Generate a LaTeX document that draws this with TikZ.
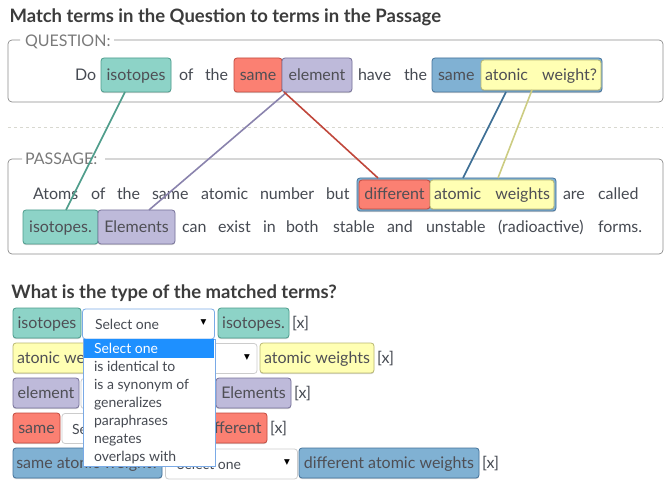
\documentclass[tikz,border=0pt]{standalone}
\usepackage{fontspec}
\setmainfont{Lato}
\newfontfamily\symfont{DejaVu Sans}
\usetikzlibrary{calc,shadows}
\definecolor{txt}{HTML}{464A52}
\definecolor{termtxt}{HTML}{4F4F55}
\definecolor{titletxt}{HTML}{3C3C3C}
\definecolor{legendtxt}{HTML}{7A7A7A}
\definecolor{framec}{HTML}{8C8C8C}
\definecolor{sepc}{HTML}{D8D8D0}
\definecolor{tealf}{HTML}{8DD3C7}\definecolor{tealb}{HTML}{4C9C8C}
\definecolor{redf}{HTML}{FB8072}\definecolor{redb}{HTML}{C24A3E}
\definecolor{purf}{HTML}{BEBADA}\definecolor{purb}{HTML}{77729A}
\definecolor{yelf}{HTML}{FFFFB3}\definecolor{yelb}{HTML}{B9B872}
\definecolor{bluf}{HTML}{80B1D3}\definecolor{blub}{HTML}{44729A}
\definecolor{tealL}{HTML}{4F9D8B}
\definecolor{purL}{HTML}{8A83AD}
\definecolor{redL}{HTML}{C0473B}
\definecolor{bluL}{HTML}{3E6F95}
\definecolor{yelL}{HTML}{CCCC82}
\definecolor{selb}{HTML}{CCCCCC}
\definecolor{focusb}{HTML}{7AAAE6}
\definecolor{hilite}{HTML}{1E90FF}
\newcommand{\bodyfs}{\fontsize{16}{19}\selectfont}
\newcommand{\smallfs}{\fontsize{14}{17}\selectfont}
\newcommand{\titlefs}{\fontsize{18.5}{22}\selectfont\bfseries}
\begin{document}
\begin{tikzpicture}[x=1pt,y=-1pt,
  every node/.style={inner sep=0pt,outer sep=0pt},
  word/.style={anchor=base west,font=\bodyfs,text=txt},
  legend/.style={anchor=base west,font=\bodyfs,text=legendtxt},
  heading/.style={anchor=base west,font=\titlefs,text=titletxt},
  term/.style={draw,rounded corners=3pt,line width=0.8pt,text height=11pt,text depth=0pt,
    font=\bodyfs,text=termtxt,
    drop shadow={shadow xshift=0pt,shadow yshift=-1.2pt,opacity=0.35}},
  qterm/.style={term,minimum height=34pt},
  iterm/.style={term,minimum height=29pt},
  rterm/.style={term,minimum height=30pt},
  teal/.style={fill=tealf,draw=tealb},
  red/.style={fill=redf,draw=redb},
  pur/.style={fill=purf,draw=purb},
  yel/.style={fill=yelf,draw=yelb},
  blu/.style={fill=bluf,draw=blub},
  fieldset/.style={draw=framec,line width=0.7pt,rounded corners=4pt},
  link/.style={line width=1.6pt},
  selectbox/.style={draw=selb,fill=white,line width=0.8pt,rounded corners=3pt,minimum width=132pt,minimum height=30pt},
  seltext/.style={anchor=base west,font=\smallfs,text=txt},
  selarrow/.style={font=\symfont\fontsize{7.5}{8}\selectfont,text=black},
  closex/.style={anchor=base west,font=\bodyfs,text=txt},
  item/.style={anchor=base west,font=\smallfs,text=txt}
]
\useasboundingbox (0,0) rectangle (670,492);

% ---------- heading ----------
\node[heading] (title) at (9.5,22.5) {Match terms in the Question to terms in the Passage};

% ---------- question fieldset ----------
\draw[fieldset] (20,40) -- (8,40) -- (8,102) -- (663,102) -- (663,40) -- (114,40);
\node[legend] (qlegend) at (25,46.5) {QUESTION:};

\node[word] (qdo) at (75,80.5) {Do};
\node[qterm,teal,minimum width=70pt] (qiso) at (136,75) {isotopes};
\node[word] (qof) at (179,80.5) {of};
\node[word] (qthe) at (205,80.5) {the};
\node[qterm,red,minimum width=48pt] (qsame) at (258,75) {same};
\node[qterm,pur,minimum width=70pt] (qelem) at (317,75) {element};
\node[word] (qhave) at (358,80.5) {have};
\node[word] (qthe2) at (404,80.5) {the};
\node[qterm,blu,minimum width=170pt] (qouter) at (517,75) {};
\node[word,text=termtxt] (qsame2) at (438,80.5) {same};
\node[term,yel,minimum width=120pt,minimum height=30pt,drop shadow={opacity=0}] (qatw) at (541,75) {atonic\hspace{10pt} weight?};

% ---------- separator ----------
\draw[sepc,line width=0.8pt,dash pattern=on 3pt off 3pt] (8,127) -- (663,127);

% ---------- passage fieldset ----------
\draw[fieldset] (22,159) -- (8,159) -- (8,254) -- (663,254) -- (663,159) -- (105,159);
\node[legend] (plegend) at (25,165) {PASSAGE:};

\node[word] (p1) at (33,200) {Atoms};
\node[word] (p2) at (91,200) {of};
\node[word] (p3) at (117,200) {the};
\node[word] (p4) at (152,200) {same};
\node[word] (p5) at (201,200) {atomic};
\node[word] (p6) at (260,200) {number};
\node[word] (p7) at (326,200) {but};
\node[term,blu,minimum width=199pt,minimum height=33pt] (pouter) at (456.5,194.5) {};
\node[iterm,red,minimum width=71pt,drop shadow={opacity=0}] (pdiff) at (394.5,194.5) {different};
\node[iterm,yel,minimum width=124pt,drop shadow={opacity=0}] (patw) at (492,194.5) {atomic\hspace{10pt} weights};
\node[word] (p8) at (563,200) {are};
\node[word] (p9) at (598,200) {called};

\node[qterm,teal,minimum width=75pt] (piso) at (60.5,227) {isotopes.};
\node[qterm,pur,minimum width=77pt] (pelem) at (136.5,227) {Elements};
\node[word] (p10) at (182,232.5) {can};
\node[word] (p11) at (218,232.5) {exist};
\node[word] (p12) at (263,232.5) {in};
\node[word] (p13) at (286,232.5) {both};
\node[word] (p14) at (333,232.5) {stable};
\node[word] (p15) at (387,232.5) {and};
\node[word] (p16) at (426,232.5) {unstable};
\node[word] (p17) at (498,232.5) {(radioactive)};
\node[word] (p18) at (598,232.5) {forms.};

% ---------- links ----------
\draw[link,tealL] ($(qiso.south)+(-11,0)$) -- ($(piso.north)+(5.5,0)$);
\draw[link,purL] ($(qelem.south)+(-30,0)$) -- ($(pelem.north)+(12.5,0)$);
\draw[link,redL] ($(qsame.south)+(26,0)$) -- ($(pdiff.north)+(-16.5,-2)$);
\draw[link,bluL] ($(qouter.south)+(-11,0)$) -- ($(pouter.north)+(6.5,0)$);
\draw[link,yelL] ($(qatw.south)+(-9,0)$) -- ($(patw.north)+(6,-2)$);

% ---------- matched terms ----------
\node[heading] (title2) at (11.5,298.5) {What is the type of the matched terms?};

% row 1
\node[rterm,teal,minimum width=68pt] (b1l) at (47,323) {isotopes};
\node[selectbox,draw=focusb] (s1) at (148.5,324) {};
\node[seltext] (s1t) at (95,329) {Select one};
\node[selarrow] (s1a) at (203.5,323) {▼};
\node[rterm,teal,minimum width=71pt] (b1r) at (253.5,323) {isotopes.};
\node[closex] (x1) at (292,328.5) {[x]};

% row 2
\node[rterm,yel,minimum width=110pt] (b2l) at (68,358) {atonic weight?};
\node[selectbox] (s2) at (191,358.5) {};
\node[seltext] (s2t) at (137,364) {Select one};
\node[selarrow] (s2a) at (247,358) {▼};
\node[rterm,yel,minimum width=114pt] (b2r) at (317,358) {atomic weights};
\node[closex] (x2) at (377,363.5) {[x]};

% row 3
\node[rterm,pur,minimum width=66pt] (b3l) at (46,393) {element};
\node[selectbox] (s3) at (147,393.5) {};
\node[seltext] (s3t) at (93,399) {Select one};
\node[selarrow] (s3a) at (203,393) {▼};
\node[rterm,pur,minimum width=75pt] (b3r) at (253.5,393) {Elements};
\node[closex] (x3) at (294,398.5) {[x]};

% row 4
\node[rterm,red,minimum width=47pt] (b4l) at (36.5,428) {same};
\node[selectbox] (s4) at (128,428.5) {};
\node[seltext] (s4t) at (72,434) {Select one};
\node[selarrow] (s4a) at (184,428) {▼};
\node[rterm,red,minimum width=71pt] (b4r) at (231.5,428) {different};
\node[closex] (x4) at (270,433.5) {[x]};

% row 5
\node[rterm,blu,minimum width=149pt] (b5l) at (87.5,463) {same atonic weight?};
\node[selectbox] (s5) at (231.5,464) {};
\node[seltext] (s5t) at (177,469) {Select one};
\node[selarrow] (s5a) at (287,463) {▼};
\node[rterm,blu,minimum width=180pt] (b5r) at (389,463) {different atomic weights};
\node[closex] (x5) at (482,468.5) {[x]};

% ---------- open dropdown list ----------
\node[draw=focusb,fill=white,line width=0.8pt,minimum width=132pt,minimum height=127pt] (list) at (149,402.5) {};
\node[fill=hilite,minimum width=130.5pt,minimum height=19pt] (hl) at (149,348.8) {};
\node[item,text=white] (i0) at (94,353.3) {Select one};
\node[item] (i1) at (94,371.4) {is identical to};
\node[item] (i2) at (94,389.5) {is a synonym of};
\node[item] (i3) at (94,407.6) {generalizes};
\node[item] (i4) at (94,425.6) {paraphrases};
\node[item] (i5) at (94,443.7) {negates};
\node[item] (i6) at (94,461.7) {overlaps with};
\end{tikzpicture}
\end{document}
